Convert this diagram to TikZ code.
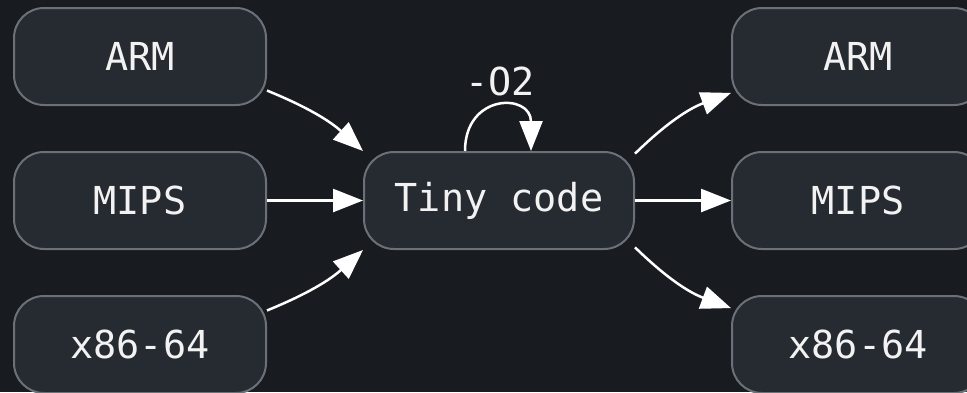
\documentclass[tikz,border=0pt]{standalone}
\usepackage{fontspec}
\setmonofont{DejaVu Sans Mono}
\usetikzlibrary{arrows.meta,calc}
\definecolor{bg}{RGB}{24,27,32}
\definecolor{boxfill}{RGB}{38,42,49}
\definecolor{boxline}{RGB}{108,112,119}
\definecolor{txt}{RGB}{242,242,242}
\tikzset{
  archbox/.style={draw=boxline, fill=boxfill, line width=2pt, rounded corners=30pt,
    minimum width=252pt, minimum height=97pt, inner sep=0pt, text=txt,
    font=\ttfamily\fontsize{38.5}{46}\selectfont},
  flow/.style={draw=white, line width=2.5pt, -{Triangle[length=30pt,width=23pt]}},
}
\begin{document}
\begin{tikzpicture}[x=1pt,y=-1pt]
\useasboundingbox (0,0) rectangle (967,392);
\clip (0,0) rectangle (967,392);
\fill[bg] (0,0) rectangle (967,392);
\node[archbox] (larm) at (140,56.5) {ARM};
\node[archbox] (lmips) at (140,200.5) {MIPS};
\node[archbox] (lx86) at (140,344.5) {x86-64};
\node[archbox, minimum width=270pt] (tiny) at (499,200.5) {Tiny code};
\node[archbox] (rarm) at (858,56.5) {ARM};
\node[archbox] (rmips) at (858,200.5) {MIPS};
\node[archbox] (rx86) at (858,344.5) {x86-64};
\draw[flow] (larm.-15.7) to[bend left=10] (tiny.160.7);
\draw[flow] (lmips.east) -- (tiny.west);
\draw[flow] (lx86.15.3) to[bend right=10] (tiny.-160);
\draw[flow] (tiny.19.9) to[bend left=12] (rarm.-164.9);
\draw[flow] (tiny.east) -- (rmips.west);
\draw[flow] (tiny.-19.9) to[bend right=12] (rx86.164.5);
\coordinate (loopa) at ($(tiny.north)+(-34,0)$);
\coordinate (loopb) at ($(tiny.north)+(32,0)$);
\draw[flow] (loopa) .. controls ($(loopa)+(0,-58)$) and ($(loopb)+(0,-58)$) .. (loopb);
\node[text=txt, font=\ttfamily\fontsize{38.5}{46}\selectfont] (opt) at (500,81) {-O2};
\end{tikzpicture}
\end{document}
